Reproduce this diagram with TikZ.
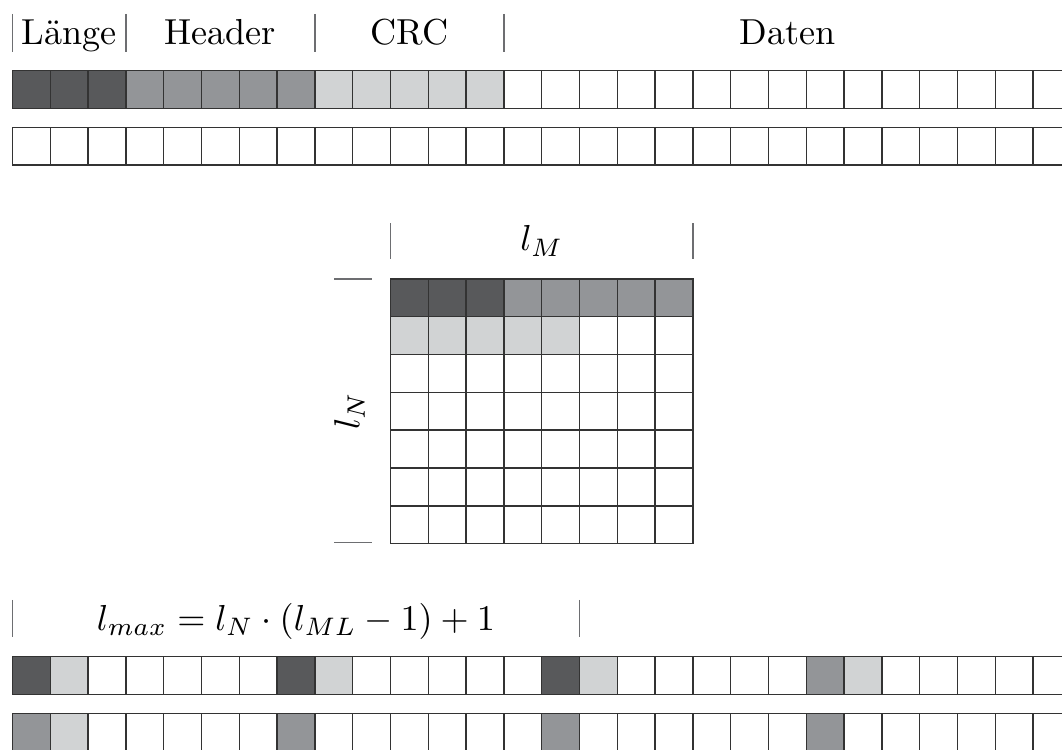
\documentclass[tikz,border=0pt]{standalone}
\usepackage{fontspec}
\definecolor{cdark}{HTML}{58595B}
\definecolor{cmid}{HTML}{939598}
\definecolor{clight}{HTML}{D1D3D4}
\definecolor{cline}{HTML}{333333}
\definecolor{cbar}{HTML}{6D6E71}
\tikzset{
  cell/.style={draw=cline, line width=1.1pt},
  bar/.style={draw=cbar, line width=1pt},
  lbl/.style={anchor=base, inner sep=0pt, font=\fontsize{10}{12}\selectfont, scale=2.72, transform shape},
}
\begin{document}
\begin{tikzpicture}
\useasboundingbox (0,0) rectangle (28.095,-19.815);
\clip (0,0) rectangle (28.095,-19.815);
% ---------- top rows ----------
\foreach \i in {0,...,27}{
  \pgfmathsetmacro{\x}{0.33+\i}
  \ifnum\i<3 \def\c{cdark}\else\ifnum\i<8 \def\c{cmid}\else\ifnum\i<13 \def\c{clight}\else\def\c{white}\fi\fi\fi
  \filldraw[cell, fill=\c] (\x,-1.87) rectangle ++(1,-1);
  \draw[cell] (\x,-3.37) rectangle ++(1,-1);
}
\foreach \x in {0.33,3.33,8.33,13.33,28.33}{
  \draw[bar] (\x,-0.37) -- (\x,-1.37);
}
\node[lbl] (laenge) at (1.83,-1.19) {Länge};
\node[lbl] (header) at (5.83,-1.19) {Header};
\node[lbl] (crc) at (10.83,-1.19) {CRC};
\node[lbl] (daten) at (20.83,-1.19) {Daten};
% ---------- matrix ----------
\foreach \j in {0,...,6}{
  \foreach \i in {0,...,7}{
    \pgfmathsetmacro{\x}{10.33+\i}
    \pgfmathsetmacro{\y}{-7.38-\j}
    \def\c{white}
    \ifnum\j=0 \ifnum\i<3 \def\c{cdark}\else\def\c{cmid}\fi\fi
    \ifnum\j=1 \ifnum\i<5 \def\c{clight}\fi\fi
    \filldraw[cell, fill=\c] (\x,\y) rectangle ++(1,-1);
  }
}
\draw[bar] (10.33,-5.91) -- (10.33,-6.86);
\draw[bar] (18.33,-5.91) -- (18.33,-6.86);
\draw[bar] (8.84,-7.38) -- (9.83,-7.38);
\draw[bar] (8.84,-14.36) -- (9.83,-14.36);
\node[lbl] (lm) at (14.33,-6.63) {$l_M$};
\node[lbl, anchor=center, rotate=90] (ln) at (9.25,-10.87) {$l_N$};
% ---------- bottom rows ----------
\foreach \i in {0,...,27}{
  \pgfmathsetmacro{\x}{0.33+\i}
  \pgfmathtruncatemacro{\m}{mod(\i,7)}
  \pgfmathtruncatemacro{\q}{\i/7}
  \def\ca{white}\def\cb{white}
  \ifnum\m=0
    \ifnum\q=3 \def\ca{cmid}\else\def\ca{cdark}\fi
    \def\cb{cmid}
  \fi
  \ifnum\m=1 \def\ca{clight}\fi
  \ifnum\i=1 \def\cb{clight}\fi
  \filldraw[cell, fill=\ca] (\x,-17.37) rectangle ++(1,-1);
  \filldraw[cell, fill=\cb] (\x,-18.87) rectangle ++(1,-1);
}
\draw[bar] (0.33,-15.87) -- (0.33,-16.85);
\draw[bar] (15.33,-15.87) -- (15.33,-16.85);
\node[lbl] (lmax) at (7.83,-16.67) {$l_{max} = l_N \cdot (l_{ML} - 1) + 1$};
\end{tikzpicture}
\end{document}
